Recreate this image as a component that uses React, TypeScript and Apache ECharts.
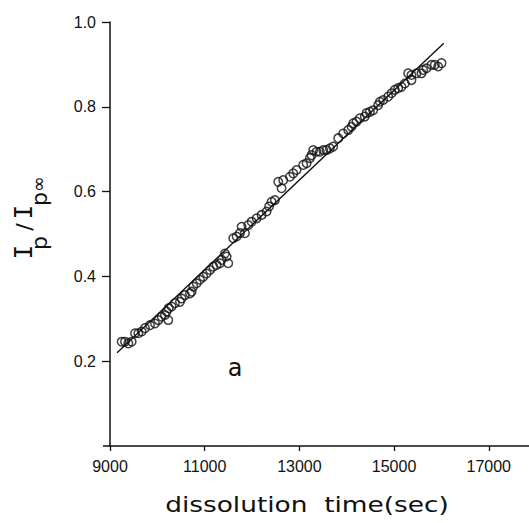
import React, { useEffect, useRef } from "react";
import * as echarts from "echarts";

const X_TICKS = [9000, 11000, 13000, 15000, 17000];
const Y_TICKS = [0.2, 0.4, 0.6, 0.8, 1.0];

const TIME_SEC = [
  9247, 9317, 9387, 9458, 9528, 9598, 9669, 9739, 9844, 9950,
  10020, 10091, 10161, 10196, 10231, 10240, 10302, 10372, 10478, 10513,
  10583, 10689, 10724, 10759, 10830, 10900, 10970, 11041, 11111, 11181,
  11252, 11322, 11357, 11428, 11463, 11497, 11603, 11675, 11744, 11780,
  11850, 11920, 11991, 12097, 12202, 12308, 12360, 12413, 12483, 12553,
  12624, 12659, 12800, 12870, 12941, 13081, 13152, 13222, 13257, 13292,
  13362, 13433, 13503, 13573, 13644, 13714, 13820, 13925, 14031, 14101,
  14137, 14207, 14278, 14383, 14418, 14489, 14558, 14664, 14700, 14770,
  14876, 14946, 15016, 15086, 15157, 15227, 15297, 15367, 15367, 15473,
  15579, 15614, 15685, 15790, 15861, 15931, 16002,
];
const RATIO = [
  0.246, 0.246, 0.242, 0.246, 0.266, 0.266, 0.270, 0.278, 0.285, 0.289,
  0.297, 0.305, 0.309, 0.317, 0.297, 0.325, 0.329, 0.337, 0.340, 0.348,
  0.356, 0.360, 0.364, 0.376, 0.384, 0.392, 0.399, 0.407, 0.415, 0.423,
  0.427, 0.431, 0.439, 0.454, 0.447, 0.431, 0.490, 0.494, 0.502, 0.517,
  0.502, 0.521, 0.529, 0.537, 0.545, 0.553, 0.565, 0.576, 0.580, 0.623,
  0.608, 0.627, 0.635, 0.643, 0.651, 0.663, 0.667, 0.679, 0.686, 0.698,
  0.694, 0.694, 0.698, 0.698, 0.702, 0.706, 0.726, 0.737, 0.745, 0.753,
  0.761, 0.765, 0.773, 0.777, 0.785, 0.788, 0.792, 0.804, 0.812, 0.816,
  0.824, 0.832, 0.840, 0.844, 0.847, 0.855, 0.879, 0.875, 0.863, 0.879,
  0.879, 0.887, 0.891, 0.899, 0.899, 0.895, 0.903,
];
const FIT_X = [9150, 16050];
const FIT_Y = [0.22, 0.95];

const FONT = "'Liberation Sans', sans-serif";

export default function App() {
  const ref = useRef<HTMLDivElement>(null);
  useEffect(() => {
    if (!ref.current) return;
    const chart = echarts.init(ref.current, null, { renderer: "svg" });
    const black = "#111";
    chart.setOption({
      animation: false,
      backgroundColor: "#fff",
      grid: { left: 110, top: 22, right: 0, bottom: 77, containLabel: false },
      xAxis: {
        type: "value",
        min: 9000,
        max: 17850,
        splitLine: { show: false },
        axisLine: { show: true, lineStyle: { color: black, width: 1.5 } },
        axisTick: { show: true, customValues: X_TICKS, length: 5, lineStyle: { color: black, width: 1.3 } },
        axisLabel: {
          customValues: X_TICKS,
          color: black,
          fontFamily: FONT,
          fontSize: 16,
          margin: 12,
          formatter: (v: number) => String(v),
        },
      },
      yAxis: {
        type: "value",
        min: 0,
        max: 1,
        interval: 0.2,
        splitLine: { show: false },
        axisLine: { show: true, lineStyle: { color: black, width: 1.5 } },
        axisTick: { show: true, customValues: Y_TICKS, length: 8, lineStyle: { color: black, width: 1.3 } },
        axisLabel: {
          customValues: Y_TICKS,
          color: black,
          fontFamily: FONT,
          fontSize: 16,
          margin: 14,
          formatter: (v: number) => v.toFixed(1),
        },
      },
      series: [
        {
          type: "line",
          data: FIT_X.map((x, i) => [x, FIT_Y[i]]),
          symbol: "none",
          lineStyle: { color: black, width: 1.4 },
          z: 1,
        },
        {
          type: "scatter",
          data: TIME_SEC.map((x, i) => [x, RATIO[i]]),
          symbol: "circle",
          symbolSize: 8.5,
          itemStyle: { color: "rgba(255,255,255,0)", borderColor: black, borderWidth: 1.5 },
          z: 2,
        },
      ],
      graphic: [
        { type: "line", shape: { x1: 103, y1: 446, x2: 110, y2: 446 }, style: { stroke: black, lineWidth: 1.5 } },
        {
          type: "text",
          x: 235,
          y: 368,
          style: { text: "a", font: "24px 'DejaVu Sans'", fill: black, textAlign: "center", textVerticalAlign: "middle" },
        },
        {
          type: "text",
          x: 307,
          y: 504,
          scaleX: 1.2,
          style: {
            text: "dissolution  time(sec)",
            font: "22px 'DejaVu Sans'",
            fill: black,
            textAlign: "center",
            textVerticalAlign: "middle",
          },
        },
        { type: "text", x: 24, y: 252, rotation: Math.PI / 2,
          style: { text: "I", font: "24px 'DejaVu Sans Mono'", fill: black, textAlign: "center", textVerticalAlign: "middle" } },
        { type: "text", x: 39, y: 243, rotation: Math.PI / 2,
          style: { text: "p", font: "22px 'DejaVu Sans'", fill: black, textAlign: "center", textVerticalAlign: "middle" } },
        { type: "text", x: 24, y: 227, rotation: Math.PI / 2,
          style: { text: "/", font: "22px 'DejaVu Sans'", fill: black, textAlign: "center", textVerticalAlign: "middle" } },
        { type: "text", x: 24, y: 212, rotation: Math.PI / 2,
          style: { text: "I", font: "24px 'DejaVu Sans Mono'", fill: black, textAlign: "center", textVerticalAlign: "middle" } },
        { type: "text", x: 39, y: 199, rotation: Math.PI / 2,
          style: { text: "p", font: "22px 'DejaVu Sans'", fill: black, textAlign: "center", textVerticalAlign: "middle" } },
        { type: "text", x: 38, y: 184, rotation: Math.PI / 2,
          style: { text: "∞", font: "19px 'DejaVu Sans'", fill: black, textAlign: "center", textVerticalAlign: "middle" } },
      ],
    });
    return () => chart.dispose();
  }, []);
  return (
    <div
      ref={ref}
      style={{ position: "fixed", left: 0, top: 0, width: 529, height: 523, background: "#fff" }}
    />
  );
}
